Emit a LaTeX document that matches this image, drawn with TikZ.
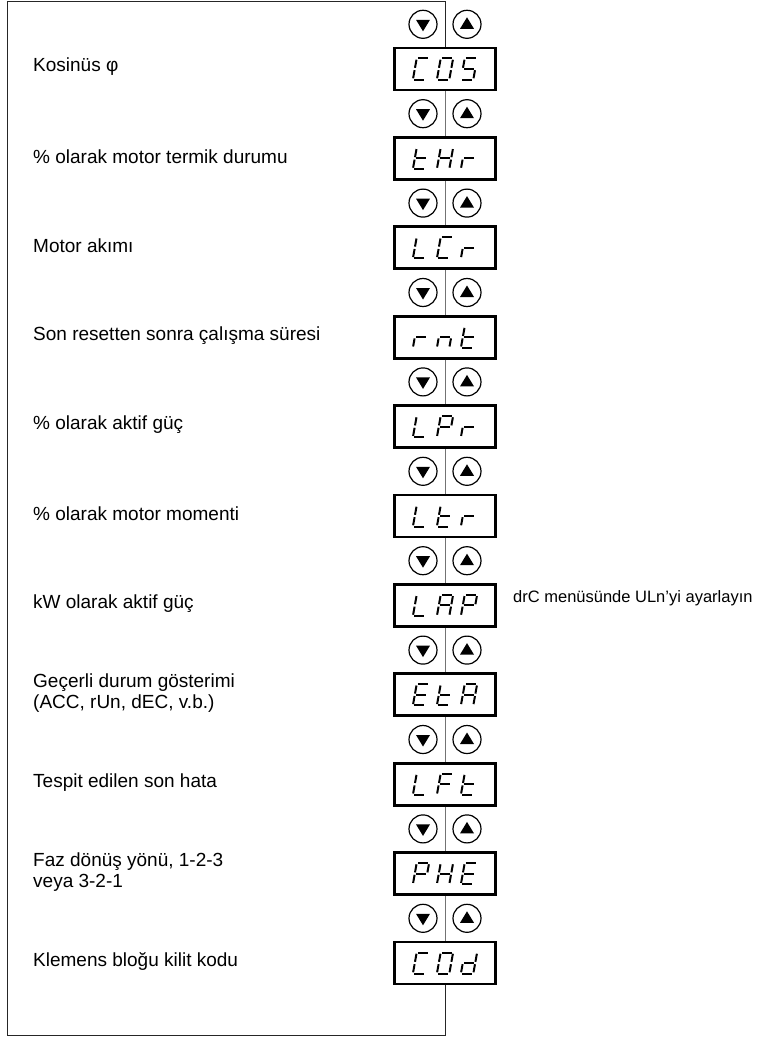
\documentclass[tikz,border=0pt]{standalone}
\usepackage{fontspec}
\setmainfont{Liberation Sans}

% seven segment pieces (cell centred on 0,0, y downwards)
\def\sevsega{(-5,-10.5) -- (5,-10.5)}
\def\sevsegb{(6.2,-9.3) -- (6.2,-1.2)}
\def\sevsegc{(6.2,1.2) -- (6.2,9.3)}
\def\sevsegd{(-5,10.5) -- (5,10.5)}
\def\sevsege{(-6.2,1.2) -- (-6.2,9.3)}
\def\sevsegf{(-6.2,-9.3) -- (-6.2,-1.2)}
\def\sevsegg{(-5,0) -- (5,0)}
\def\glyphC{a,d,e,f}
\def\glyphO{a,b,c,d,e,f}
\def\glyphS{a,c,d,f,g}
\def\glypht{d,e,f,g}
\def\glyphH{b,c,e,f,g}
\def\glyphr{e,g}
\def\glyphL{d,e,f}
\def\glyphn{c,e,g}
\def\glyphP{a,b,e,f,g}
\def\glyphA{a,b,c,e,f,g}
\def\glyphE{a,d,e,f,g}
\def\glyphF{a,e,f,g}
\def\glyphd{b,c,d,e,g}
\newcommand{\sevdigit}[3]{%
  \begin{scope}[shift={(#1,#2)},xslant=0.18]
    \expandafter\let\expandafter\seglist\csname glyph#3\endcsname
    \foreach \s in \seglist {\draw[segline] \csname sevseg\s\endcsname;}
  \end{scope}}

\tikzset{
  display/.style={draw,line width=2.8pt,minimum width=101pt,minimum height=42pt,inner sep=0pt},
  keyring/.style={circle,draw,line width=1.2pt,minimum size=28pt,inner sep=0pt},
  keydown/.style={keyring,path picture={\fill ([shift={(-7pt,4.5pt)}]path picture bounding box.center) -- ++(14pt,0pt) -- ++(-7pt,-11.5pt) -- cycle;}},
  keyup/.style={keyring,path picture={\fill ([shift={(-7pt,-4.5pt)}]path picture bounding box.center) -- ++(14pt,0pt) -- ++(-7pt,11.5pt) -- cycle;}},
  segline/.style={line width=2pt},
  link/.style={black!55,line width=0.9pt},
  frame/.style={black!85,line width=0.9pt},
  menutext/.style={font=\fontsize{19}{21}\selectfont,align=left,inner sep=0pt,anchor=west},
  notetext/.style={font=\fontsize{16.5}{19}\selectfont,inner sep=0pt,anchor=west}
}

\begin{document}
\begin{tikzpicture}[x=1pt,y=-1pt]
  \useasboundingbox (0,0) rectangle (759,1041);
  \foreach \i/\da/\db/\dc/\txt in {0/C/O/S/{Kosinüs φ},
      1/t/H/r/{\% olarak motor termik durumu},
      2/L/C/r/{Motor akımı},
      3/r/n/t/{Son resetten sonra çalışma süresi},
      4/L/P/r/{\% olarak aktif güç},
      5/L/t/r/{\% olarak motor momenti},
      6/L/A/P/{kW olarak aktif güç},
      7/E/t/A/{Geçerli durum gösterimi\\(ACC, rUn, dEC, v.b.)},
      8/L/F/t/{Tespit edilen son hata},
      9/P/H/E/{Faz dönüş yönü, 1-2-3\\veya 3-2-1},
      10/C/O/d/{Klemens bloğu kilit kodu}} {
    \pgfmathsetmacro{\cy}{69+89.4*\i}
    \node[display] (disp\i) at (445,\cy) {};
    \sevdigit{421}{\cy}{\da}
    \sevdigit{445}{\cy}{\db}
    \sevdigit{469}{\cy}{\dc}
    \node[keydown] (dn\i) at (423,\cy-44.7) {};
    \node[keyup] (up\i) at (467,\cy-44.7) {};
    \node[menutext] (txt\i) at (33,\cy-2) {\txt};
  }
  \foreach \i [evaluate=\i as \j using int(\i-1)] in {1,...,10}
    \draw[link] (disp\j.south) -- (disp\i.north);
  \coordinate (topr) at (445,1);
  \coordinate (topl) at (7,1);
  \coordinate (botl) at (7,1035);
  \coordinate (botr) at (445,1035);
  \draw[frame] (disp0.north) -- (topr) -- (topl) -- (botl) -- (botr) -- (disp10.south);
  \node[notetext] (note) at (513,598) {drC menüsünde ULn’yi ayarlayın};
\end{tikzpicture}
\end{document}
